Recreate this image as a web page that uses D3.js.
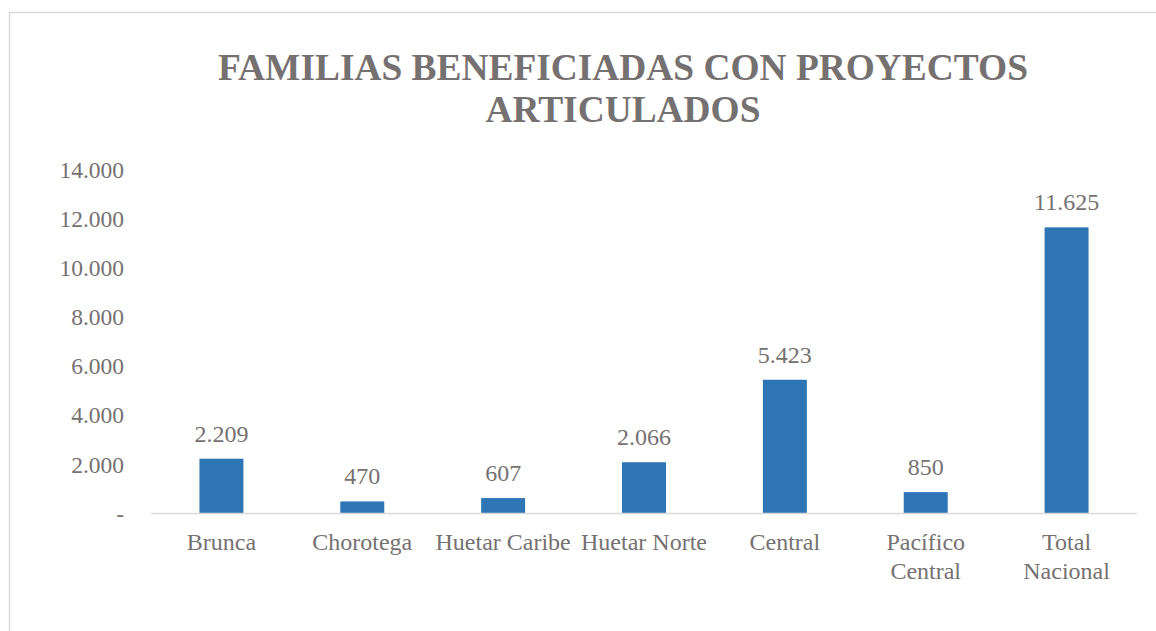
<!DOCTYPE html>
<html>
<head>
<meta charset="utf-8">
<script src="https://cdn.jsdelivr.net/npm/d3@7"></script>
<style>
  html, body { margin: 0; padding: 0; background: #fff; overflow: hidden; }
  svg { display: block; }
  svg text { font-family: "Liberation Serif", "Times New Roman", serif; fill: #767171; }
</style>
</head>
<body>
<div id="chart"></div>
<script>
'use strict';

// Chart data
var titleLines = ['FAMILIAS BENEFICIADAS CON PROYECTOS', 'ARTICULADOS'];
var categories = [['Brunca'], ['Chorotega'], ['Huetar Caribe'], ['Huetar Norte'], ['Central'], ['Pacífico', 'Central'], ['Total', 'Nacional']];
var values = [2209, 470, 607, 2066, 5423, 850, 11625];
var yTicks = [0, 2000, 4000, 6000, 8000, 10000, 12000, 14000];

var width = 1156, height = 631;
var margin = {top: 169, right: 19, bottom: 118, left: 151};
var innerWidth = width - margin.left - margin.right;
var innerHeight = height - margin.top - margin.bottom;

// es-style number format: 11.625, zero shown as "-"
var fmt = d3.formatLocale({decimal: ',', thousands: '.', grouping: [3], currency: ['', '']}).format(',d');
function tickFmt(d) { return d === 0 ? '-' : fmt(d); }

var svg = d3.select('#chart').append('svg')
  .attr('width', width)
  .attr('height', height);

// chart area border (right and bottom edges fall outside the picture)
svg.append('path')
  .attr('d', 'M9.5,' + height + 'V12.5H' + width)
  .attr('fill', 'none')
  .attr('stroke', '#d9d9d9')
  .attr('stroke-width', 1.5);

svg.append('g').selectAll('text')
  .data(titleLines)
  .enter().append('text')
  .attr('x', 623)
  .attr('y', function(d, i) { return 80 + i * 42; })
  .attr('text-anchor', 'middle')
  .attr('font-size', 37.4)
  .attr('font-weight', 'bold')
  .text(function(d) { return d; });

var chart = svg.append('g')
  .attr('transform', 'translate(' + margin.left + ',' + margin.top + ')');

var x = d3.scaleBand()
  .domain(d3.range(categories.length))
  .range([0, innerWidth])
  .paddingInner(0.688)
  .paddingOuter(0.344);

var y = d3.scaleLinear()
  .domain([0, 14000])
  .range([innerHeight, 0]);

// y axis labels only (no line, no grid)
var yAxis = d3.axisLeft(y).tickValues(yTicks).tickFormat(tickFmt).tickSize(0).tickPadding(27);
chart.append('g').attr('class', 'yAxis').call(yAxis)
  .call(function(g) { g.select('.domain').remove(); })
  .selectAll('text')
  .attr('font-size', 23.5)
  .attr('dy', '0.35em');

chart.selectAll('rect.bar')
  .data(values)
  .enter().append('rect')
  .attr('class', 'bar')
  .attr('x', function(d, i) { return x(i); })
  .attr('y', function(d) { return y(d); })
  .attr('width', x.bandwidth())
  .attr('height', function(d) { return innerHeight - y(d); })
  .attr('fill', '#2e75b6');

// baseline
chart.append('line')
  .attr('x1', 0).attr('x2', innerWidth)
  .attr('y1', innerHeight + 0.5).attr('y2', innerHeight + 0.5)
  .attr('stroke', '#d9d9d9')
  .attr('stroke-width', 1.5);

chart.selectAll('text.value')
  .data(values)
  .enter().append('text')
  .attr('class', 'value')
  .attr('x', function(d, i) { return x(i) + x.bandwidth() / 2; })
  .attr('y', function(d) { return y(d) - 17; })
  .attr('text-anchor', 'middle')
  .attr('font-size', 24)
  .text(function(d) { return fmt(d); });

var catLabels = chart.selectAll('text.cat')
  .data(categories)
  .enter().append('text')
  .attr('class', 'cat')
  .attr('text-anchor', 'middle')
  .attr('font-size', 24)
  .attr('transform', function(d, i) {
    return 'translate(' + (x(i) + x.bandwidth() / 2) + ',' + (innerHeight + 37) + ')';
  });

catLabels.selectAll('tspan')
  .data(function(d) { return d; })
  .enter().append('tspan')
  .attr('x', 0)
  .attr('y', function(d, i) { return i * 29; })
  .text(function(d) { return d; });
</script>
</body>
</html>
